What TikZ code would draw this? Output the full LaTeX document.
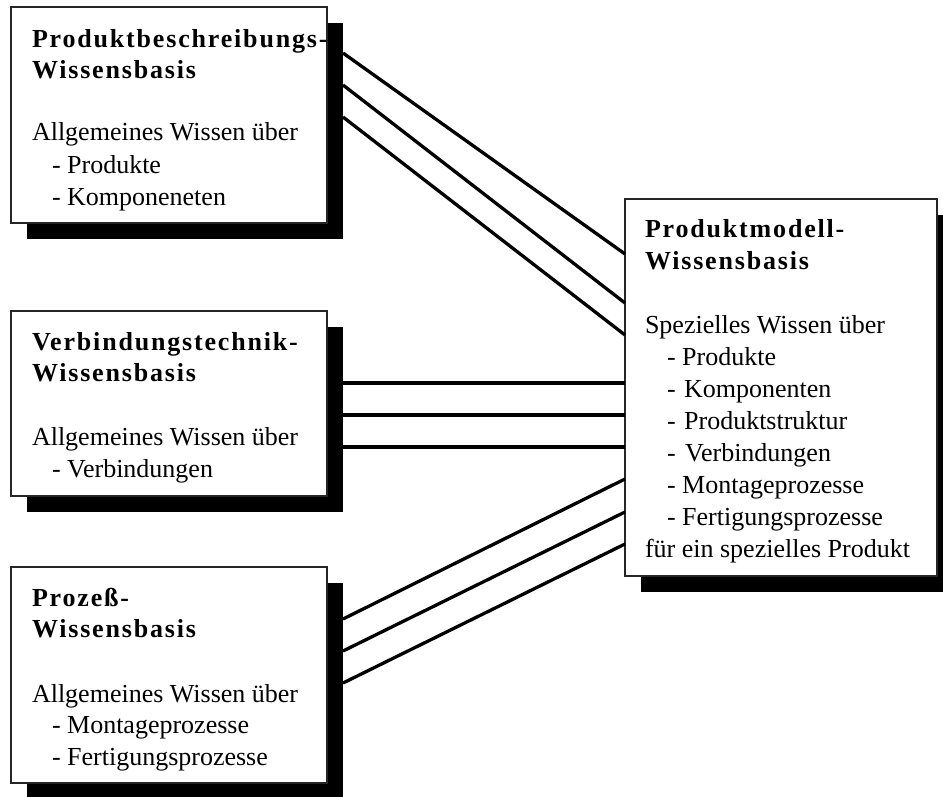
\documentclass[tikz,border=0pt]{standalone}
\usepackage{fontspec}
\setmainfont{Liberation Serif}
\begin{document}
\begin{tikzpicture}[x=1pt,y=-1pt,
  kbox/.style={draw=black!85, line width=1.5pt, fill=white, anchor=north west, inner sep=0pt, outer sep=0pt},
  kshadow/.style={fill=black, draw=none, anchor=north west, inner sep=0pt, outer sep=0pt},
  lbl/.style={anchor=base west, inner sep=0pt, outer sep=0pt, font=\fontsize{26}{32}\selectfont},
  ttl/.style={anchor=base west, inner sep=0pt, outer sep=0pt, font=\fontsize{26}{32}\selectfont\bfseries\addfontfeature{LetterSpace=7}},
  conn/.style={line width=3.3pt, black}]
\useasboundingbox (0,0) rectangle (943,796);
\clip (0,0) rectangle (943,796);
% shadows
\node[kshadow, minimum width=316pt, minimum height=216pt] (b1s) at (27,23) {};
\node[kshadow, minimum width=316pt, minimum height=185pt] (b2s) at (27,327) {};
\node[kshadow, minimum width=316pt, minimum height=216pt] (b3s) at (27,583) {};
\node[kshadow, minimum width=312pt, minimum height=377pt] (b4s) at (641,215) {};
% boxes
\node[kbox, minimum width=316pt, minimum height=216pt] (b1) at (11,7) {};
\node[kbox, minimum width=316pt, minimum height=185pt] (b2) at (11,311) {};
\node[kbox, minimum width=316pt, minimum height=216pt] (b3) at (11,567) {};
\node[kbox, minimum width=312pt, minimum height=377pt] (b4) at (625,199) {};
% box 1 text
\node[ttl] (t1a) at (32,47) {Produktbeschreibungs-};
\node[ttl] (t1b) at (32,78) {Wissensbasis};
\node[lbl] (t1c) at (32,140) {Allgemeines Wissen über};
\node[lbl] (t1d) at (52,173) {- Produkte};
\node[lbl] (t1e) at (52,205) {- Komponeneten};
% box 2 text
\node[ttl] (t2a) at (32,350) {Verbindungstechnik-};
\node[ttl] (t2b) at (32,381) {Wissensbasis};
\node[lbl] (t2c) at (32,445) {Allgemeines Wissen über};
\node[lbl] (t2d) at (52,477) {- Verbindungen};
% box 3 text
\node[ttl] (t3a) at (32,606) {Prozeß-};
\node[ttl] (t3b) at (32,637) {Wissensbasis};
\node[lbl] (t3c) at (32,702) {Allgemeines Wissen über};
\node[lbl] (t3d) at (52,733) {- Montageprozesse};
\node[lbl] (t3e) at (52,765) {- Fertigungsprozesse};
% box 4 text
\node[ttl] (t4a) at (645,237) {Produktmodell-};
\node[ttl] (t4b) at (645,269) {Wissensbasis};
\node[lbl] (t4c) at (645,333) {Spezielles Wissen über};
\node[lbl] (t4d) at (667,365) {- Produkte};
\node[lbl] (t4e) at (667,397) {-\kern2pt\ Komponenten};
\node[lbl] (t4f) at (667,429) {-\kern2pt\ Produktstruktur};
\node[lbl] (t4g) at (667,461) {-\kern3pt\ Verbindungen};
\node[lbl] (t4h) at (667,493) {- Montageprozesse};
\node[lbl] (t4i) at (667,525) {- Fertigungsprozesse};
\node[lbl] (t4j) at (645,557) {für ein spezielles Produkt};
% connectors
\draw[conn] ([yshift=-30pt]b1s.north east) -- ([yshift=-55pt]b4.north west);
\draw[conn] ([yshift=-62pt]b1s.north east) -- ([yshift=-104pt]b4.north west);
\draw[conn] ([yshift=-94pt]b1s.north east) -- ([yshift=-136pt]b4.north west);
\draw[conn] ([yshift=-56pt]b2s.north east) -- ([yshift=-184pt]b4.north west);
\draw[conn] ([yshift=-88pt]b2s.north east) -- ([yshift=-216pt]b4.north west);
\draw[conn] ([yshift=-120pt]b2s.north east) -- ([yshift=-248pt]b4.north west);
\draw[conn] ([yshift=-36pt]b3s.north east) -- ([yshift=-280pt]b4.north west);
\draw[conn] ([yshift=-68pt]b3s.north east) -- ([yshift=-313pt]b4.north west);
\draw[conn] ([yshift=-100pt]b3s.north east) -- ([yshift=-345pt]b4.north west);
\end{tikzpicture}
\end{document}
